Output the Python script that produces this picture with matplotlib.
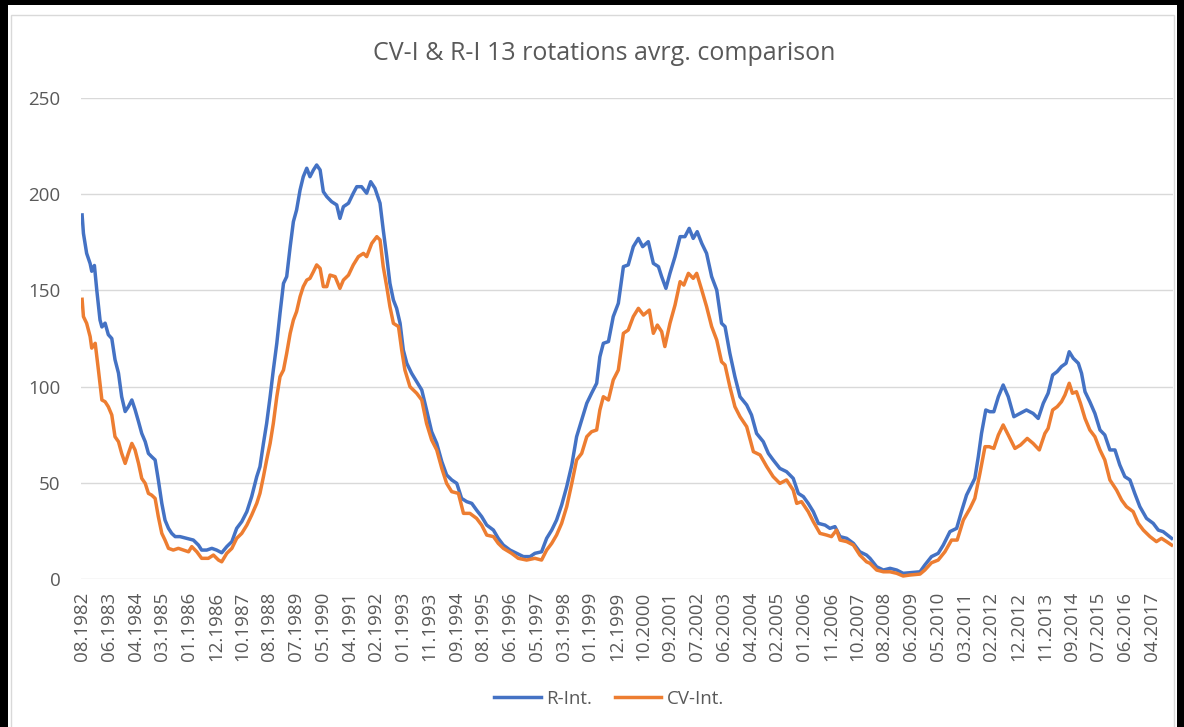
import matplotlib.pyplot as plt
from matplotlib.patches import Rectangle

plt.rcParams["font.family"] = ["Open Sans", "DejaVu Sans"]

# x axis: category labels, one every 25 points (position 0 = 08.1982)
tick_labels = [
    "08.1982", "06.1983", "04.1984", "03.1985", "01.1986", "12.1986", "10.1987",
    "08.1988", "07.1989", "05.1990", "04.1991", "02.1992", "01.1993", "11.1993",
    "09.1994", "08.1995", "06.1996", "05.1997", "03.1998", "01.1999", "12.1999",
    "10.2000", "09.2001", "07.2002", "06.2003", "04.2004", "02.2005", "01.2006",
    "11.2006", "10.2007", "08.2008", "06.2009", "05.2010", "03.2011", "02.2012",
    "12.2012", "11.2013", "09.2014", "07.2015", "06.2016", "04.2017",
]

# R-Int. series (position in label units, value)
r_pos = [
    0, 0.05, 0.17, 0.30, 0.36, 0.46, 0.55, 0.67, 0.74, 0.86, 0.98, 1.11, 1.23, 1.36,
    1.48, 1.61, 1.73, 1.86, 1.98, 2.11, 2.23, 2.36, 2.48, 2.60, 2.73, 2.85, 2.98,
    3.10, 3.23, 3.35, 3.48, 3.66, 3.91, 4.16, 4.35, 4.47, 4.66, 4.85, 5.03, 5.22,
    5.41, 5.60, 5.78, 5.97, 6.16, 6.34, 6.53, 6.65, 6.78, 6.90, 7.03, 7.15, 7.28,
    7.40, 7.53, 7.65, 7.78, 7.90, 8.02, 8.15, 8.27, 8.40, 8.52, 8.65, 8.77, 8.90,
    9.02, 9.15, 9.33, 9.52,
    9.64, 9.77, 9.96, 10.14, 10.27, 10.45, 10.64, 10.79, 10.95, 11.14, 11.26, 11.39,
    11.51, 11.64, 11.76, 11.89, 12.01, 12.14, 12.32, 12.51, 12.70, 12.88, 13.07,
    13.26, 13.45, 13.63, 13.82, 14.01, 14.19, 14.38, 14.57, 14.75, 14.94, 15.13,
    15.38, 15.56, 15.75, 16.00, 16.25, 16.50, 16.75, 16.93, 17.18, 17.37, 17.56,
    17.74, 17.93, 18.12, 18.31, 18.49, 18.68, 18.87, 19.05, 19.24,
    19.36, 19.49, 19.68, 19.86, 20.05, 20.24, 20.42, 20.61, 20.80, 20.96, 21.17,
    21.36, 21.55, 21.67, 21.83, 21.98, 22.17, 22.36, 22.54, 22.70, 22.85, 23.00,
    23.17, 23.35, 23.54, 23.73, 23.91, 24.04, 24.22, 24.41, 24.60, 24.85, 25.03,
    25.22, 25.47, 25.66, 25.84, 26.09, 26.34, 26.59, 26.78, 26.97, 27.15, 27.34,
    27.53, 27.78, 27.96, 28.15, 28.34, 28.59, 28.84, 29.08, 29.33,
    29.46, 29.71, 29.96, 30.21, 30.46, 30.70, 30.95, 31.33, 31.51, 31.76, 32.01,
    32.20, 32.45, 32.70, 32.88, 33.07, 33.26, 33.38, 33.51, 33.63, 33.79, 33.94,
    34.09, 34.26, 34.44, 34.63, 34.84, 35.07, 35.31, 35.56, 35.75, 35.94, 36.12,
    36.29, 36.46, 36.62, 36.79, 36.91, 37.06, 37.25, 37.37, 37.50, 37.68, 37.87,
    38.06, 38.24, 38.43, 38.62, 38.80, 38.99, 39.18, 39.36, 39.55, 39.80, 40.05,
    40.24, 40.42, 40.74,
]
r_int = [
    189.3, 179.7, 169.3, 164, 160, 163, 150, 134.6, 131, 133, 127, 125, 114, 107,
    94.7, 87, 89.5, 93, 88, 81.7, 75.6, 71.3, 65.2, 63.5, 61.8, 51.4, 39.2,
    30.5, 26.2, 23.6, 21.9, 21.9, 21, 20.1, 17.5, 14.9, 14.9, 15.8, 14.9, 13.5,
    16.7, 19.3, 26.2, 29.7, 34.9, 42.7, 53.1, 58.3, 70.4, 80.8, 94.7, 108.6, 122.5,
    138.1, 153.7, 157.2, 172.8, 185.8, 191.9, 202.3, 209.2, 213.6, 209.2, 212.7, 215.3, 212.7,
    201.4, 198.8, 196.2, 194.5,
    187.5, 193.6, 195.4, 200.6, 204, 204, 200.6, 206.6, 203.2, 195.4, 181.5, 167.6,
    153.7, 145, 140.7, 132.9, 119, 112.1, 106.9, 102.5, 98.2, 87.8, 76.5,
    70.4, 60.9, 54, 51.4, 49.6, 41.8, 40.1, 39.2, 35.7, 32.3, 27.9,
    25.3, 21, 17.5, 14.9, 13.2, 11.5, 11.5, 13.2, 14, 21, 25.3,
    30.5, 38.3, 47.9, 59.2, 73.9, 82.6, 91.3, 96.5, 101.7,
    115.5, 122.5, 123.4, 136.4, 143.3, 162.4, 163.3, 172.8, 177.1, 172.8, 175.4,
    164.1, 162.4, 157.2, 151.1, 158.9, 167.6, 178, 178, 182.3, 177.1, 180.6,
    174.5, 169.3, 157.2, 150.2, 132.9, 131.2, 117.3, 105.1, 94.7, 90.4, 85.2,
    75.6, 71.3, 65.2, 61.8, 57.4, 55.7, 52.2, 44.4, 42.7, 39.2, 34.9,
    28.8, 27.9, 26.2, 27.1, 21.9, 21, 18.4, 14, 12.3,
    10.6, 6.2, 4.5, 5.4, 4.5, 2.8, 3.1, 3.6, 7.1, 11.5, 13.2,
    17.5, 24.5, 26.2, 34.9, 43.5, 48.8, 52.2, 63.5, 75.6, 87.8, 86.9,
    86.9, 94.7, 100.8, 94.7, 84.3, 86, 87.8, 86, 83.4, 91.3, 96.5,
    106, 107.8, 110.4, 112.1, 118.1, 114.7, 112.1, 106.9, 97.3, 92.1, 86,
    77.4, 74.8, 67, 67, 59.2, 53.1, 51.4, 44.4, 37.5, 31.4, 28.8,
    25.3, 24.5, 21,
]

# CV-Int. series
cv_pos = [
    0, 0.05, 0.17, 0.30, 0.36, 0.49, 0.61, 0.74, 0.86, 0.98, 1.11, 1.23, 1.36, 1.48,
    1.61, 1.73, 1.86, 1.98, 2.11, 2.23, 2.36, 2.48, 2.60, 2.73, 2.85, 2.98, 3.10,
    3.23, 3.41, 3.60, 3.79, 3.98, 4.10, 4.29, 4.47, 4.72, 4.91, 5.10, 5.22, 5.41,
    5.60, 5.78, 5.97, 6.16, 6.34, 6.53, 6.65, 6.78, 6.90, 7.03, 7.15, 7.28, 7.40,
    7.53, 7.65, 7.78, 7.90, 8.02, 8.15, 8.27, 8.40, 8.52, 8.65, 8.77, 8.90, 9.02,
    9.15, 9.27, 9.46,
    9.64, 9.77, 9.96, 10.14, 10.33, 10.52, 10.64, 10.83, 11.02, 11.14, 11.26, 11.39,
    11.51, 11.64, 11.83, 11.95, 12.07, 12.26, 12.51, 12.70, 12.88, 13.07, 13.26,
    13.45, 13.63, 13.82, 14.07, 14.26, 14.50, 14.75, 14.94, 15.13, 15.38, 15.56,
    15.75, 16.06, 16.31, 16.62, 16.93, 17.18, 17.37, 17.56, 17.74, 17.93, 18.12,
    18.31, 18.49, 18.68, 18.87, 19.05, 19.24,
    19.36, 19.49, 19.68, 19.86, 20.05, 20.24, 20.42, 20.61, 20.80, 20.99, 21.21,
    21.36, 21.51, 21.67, 21.79, 21.98, 22.17, 22.36, 22.50, 22.67, 22.85, 22.98,
    23.17, 23.35, 23.54, 23.73, 23.91, 24.04, 24.22, 24.41, 24.60, 24.85, 25.10,
    25.35, 25.60, 25.84, 26.09, 26.34, 26.59, 26.72, 26.90, 27.15, 27.34, 27.59,
    27.84, 28.02, 28.21, 28.34, 28.59, 28.84, 29.08, 29.33,
    29.46, 29.71, 29.96, 30.21, 30.46, 30.70, 30.95, 31.33, 31.51, 31.76, 32.01,
    32.26, 32.51, 32.72, 32.95, 33.20, 33.38, 33.57, 33.76, 33.92, 34.09, 34.26,
    34.44, 34.63, 34.88, 35.09, 35.34, 35.56, 35.79, 36.00, 36.12, 36.29, 36.46,
    36.62, 36.75, 36.91, 37.03, 37.18, 37.33, 37.50, 37.68, 37.87, 38.06, 38.24,
    38.43, 38.68, 38.87, 39.05, 39.30, 39.49, 39.68, 39.93, 40.17, 40.36, 40.55,
    40.74,
]
cv_int = [
    145.4, 136.4, 132.9, 126, 120, 122.5, 108.6, 93, 92.1, 89.5, 85.2, 73.9, 71.3, 65.2,
    60, 65.2, 70.4, 67, 60, 52.2, 49.6, 44.4, 43.5, 41.8, 32.3, 23.6, 20.1,
    15.8, 14.9, 15.8, 14.9, 14, 16.7, 14, 10.6, 10.6, 12.3, 9.7, 8.8, 13.2,
    15.8, 21, 23.6, 27.9, 33.1, 39.2, 44.4, 53.1, 61.8, 70.4, 80.8, 94.7, 105.1,
    108.6, 117.3, 127.7, 134.6, 139, 146.8, 152, 155.4, 156.3, 159.8, 163.3, 161.5, 152,
    152, 158, 157.2,
    151.1, 155.4, 158, 163.3, 167.6, 169.3, 167.6, 174.5, 178, 176.3, 162.4, 152,
    141.6, 132.9, 131.2, 119, 108.6, 99.9, 96.5, 93, 80.8, 72.2, 67,
    57.4, 49.6, 45.3, 44.4, 34, 34, 31.4, 27.9, 22.7, 21.9, 18.4,
    15.8, 13.2, 10.6, 9.7, 10.6, 9.7, 14.9, 18.4, 22.7, 28.8, 37.5,
    49.6, 61.8, 65.2, 73.9, 76.5, 77.4,
    87.8, 94.7, 93, 103.4, 108.6, 127.7, 129.4, 136.4, 140.7, 137.2, 139.8,
    127.7, 132, 128.6, 120.8, 132.9, 142.4, 154.6, 152.8, 158.9, 156.3, 158.9,
    150.2, 141.6, 131.2, 124.2, 112.9, 111.2, 99.9, 89.5, 84.3, 79.1, 66.1,
    64.4, 58.3, 53.1, 49.6, 51.4, 46.1, 39.2, 40.1, 34.9, 29.7, 23.6,
    22.7, 21.9, 25.3, 20.1, 19.3, 17.5, 12.3, 8.8,
    8, 4.5, 3.6, 3.6, 2.8, 1.4, 1.9, 2.4, 4.5, 8.3, 9.7,
    14, 20.1, 20.1, 30.5, 36.6, 41.8, 54.8, 68.7, 68.7, 67.8, 74.8,
    80, 74.8, 67.8, 69.6, 73, 70.4, 67, 75.6, 78.2, 87.8, 89.5,
    92.1, 95.6, 101.7, 96.5, 97.3, 91.3, 83.4, 77.4, 73.9, 67, 61.8,
    51.4, 46.1, 40.9, 37.5, 34.9, 28.8, 25.3, 21.9, 19.3, 21, 19.3,
    17.5,
]

W, H = 1184, 727
fig = plt.figure(figsize=(W / 100, H / 100), dpi=100)

# frame: thick black border plus thin grey chart-area border
fig.patches.append(Rectangle((11 / W, -0.1), (1174 - 11) / W, 1.1 - 15 / H,
                             transform=fig.transFigure, fill=False,
                             edgecolor="#d9d9d9", linewidth=1.0))
for x0, y0, w, h in [(0, 1 - 5 / H, 1, 5 / H), (0, 0, 8 / W, 1), (1 - 7 / W, 0, 7 / W, 1)]:
    fig.patches.append(Rectangle((x0, y0), w, h, transform=fig.transFigure,
                                 facecolor="black", edgecolor="none"))

ax = fig.add_axes([80.5 / W, (H - 578.7) / H, (1173 - 80.5) / W, (578.7 - 98.3) / H])
ax.plot(r_pos, r_int, color="#4472C4", lw=2.5, label="R-Int.", solid_joinstyle="round")
ax.plot(cv_pos, cv_int, color="#ED7D31", lw=2.5, label="CV-Int.", solid_joinstyle="round")

ax.set_ylim(0, 250)
ax.set_xlim(-0.06, 40.79)
ax.set_yticks(range(0, 251, 50))
ax.set_xticks(range(len(tick_labels)))
ax.set_xticklabels(tick_labels, rotation=90)
ax.tick_params(axis="y", length=0, pad=14.5, labelsize=13.5, labelcolor="#595959")
ax.tick_params(axis="x", length=0, pad=9.5, labelsize=13.5, labelcolor="#595959")
ax.grid(axis="y", color="#d9d9d9", lw=1.0)
ax.set_axisbelow(True)
for s in ax.spines.values():
    s.set_visible(False)

fig.text(604 / W, 1 - 53 / H, "CV-I & R-I 13 rotations avrg. comparison",
         ha="center", va="center", fontsize=18, color="#595959")

fig.legend(loc="center", bbox_to_anchor=(609 / W, 1 - 699 / H), ncol=2, frameon=False,
           fontsize=13.5, labelcolor="#595959", handlelength=2.5, handletextpad=0.27,
           columnspacing=1.2)

fig.savefig("out.png", dpi=100)
